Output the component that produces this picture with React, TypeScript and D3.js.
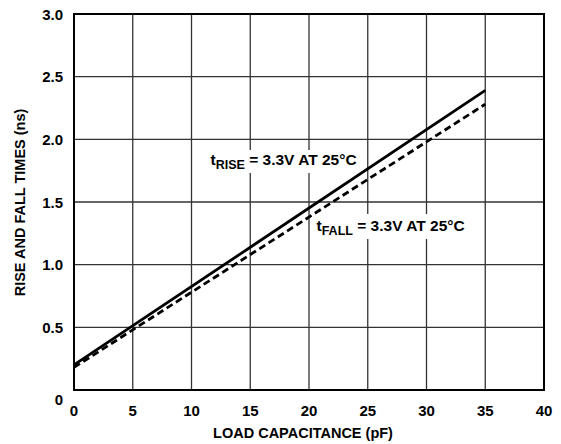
import React from "react";
import * as d3 from "d3";

const xTicks = [0, 5, 10, 15, 20, 25, 30, 35, 40];
const yTicks = [0, 0.5, 1.0, 1.5, 2.0, 2.5, 3.0];
const capPF = [0, 35];
const riseNs = [0.2, 2.39];
const fallNs = [0.18, 2.28];

export default function App() {
  const W = 561, H = 444;
  const x = d3.scaleLinear().domain([0, 40]).range([74, 544]);
  const y = d3.scaleLinear().domain([0, 3]).range([390, 14]);
  const line = d3.line<[number, number]>().x(d => x(d[0])).y(d => y(d[1]));
  const rise = capPF.map((c, i) => [c, riseNs[i]] as [number, number]);
  const fall = capPF.map((c, i) => [c, fallNs[i]] as [number, number]);
  const ts: React.CSSProperties = { fontFamily: "Arial, 'Liberation Sans', Helvetica, sans-serif", fontWeight: 700 };
  return (
    <svg width={W} height={H} style={{ position: "absolute", left: 0, top: 0 }}>
      <rect width={W} height={H} fill="#fff" />
      {xTicks.slice(1, -1).map(t => (
        <line key={"gx" + t} x1={x(t)} x2={x(t)} y1={y(0)} y2={y(3)} stroke="#333" strokeWidth={1.3} />
      ))}
      {yTicks.slice(1, -1).map(t => (
        <line key={"gy" + t} x1={x(0)} x2={x(40)} y1={y(t)} y2={y(t)} stroke="#333" strokeWidth={1.3} />
      ))}
      <rect x={208} y={150} width={156} height={23} fill="#fff" />
      <rect x={314} y={214} width={156} height={25} fill="#fff" />
      <rect x={x(0)} y={y(3)} width={x(40) - x(0)} height={y(0) - y(3)} fill="none" stroke="#000" strokeWidth={2} />
      <path d={line(rise) || ""} fill="none" stroke="#000" strokeWidth={2.8} />
      <path d={line(fall) || ""} fill="none" stroke="#000" strokeWidth={2.8} strokeDasharray="7,4" />
      {xTicks.map(t => (
        <text key={"xt" + t} x={x(t)} y={416} textAnchor="middle" fontSize={15} style={ts}>{t}</text>
      ))}
      {yTicks.map(t => (
        <text key={"yt" + t} x={63} y={t === 0 ? 405 : y(t) + 5.5} textAnchor="end" fontSize={15} style={ts}>
          {t === 0 ? "0" : t.toFixed(1)}
        </text>
      ))}
      <text x={303} y={438} textAnchor="middle" fontSize={14.5} style={ts}>LOAD CAPACITANCE (pF)</text>
      <text transform={`translate(25,202.5) rotate(-90)`} textAnchor="middle" fontSize={14.5} style={ts}>RISE AND FALL TIMES (ns)</text>
      <text x={210.5} y={165} fontSize={15.5} style={ts}>
        t<tspan fontSize={12.5} dy={3.5}>RISE</tspan><tspan dy={-3.5}> = 3.3V AT 25°C</tspan>
      </text>
      <text x={316.5} y={231} fontSize={15.5} style={ts}>
        t<tspan fontSize={12.5} dy={3.5}>FALL</tspan><tspan dy={-3.5}> = 3.3V AT 25°C</tspan>
      </text>
    </svg>
  );
}
